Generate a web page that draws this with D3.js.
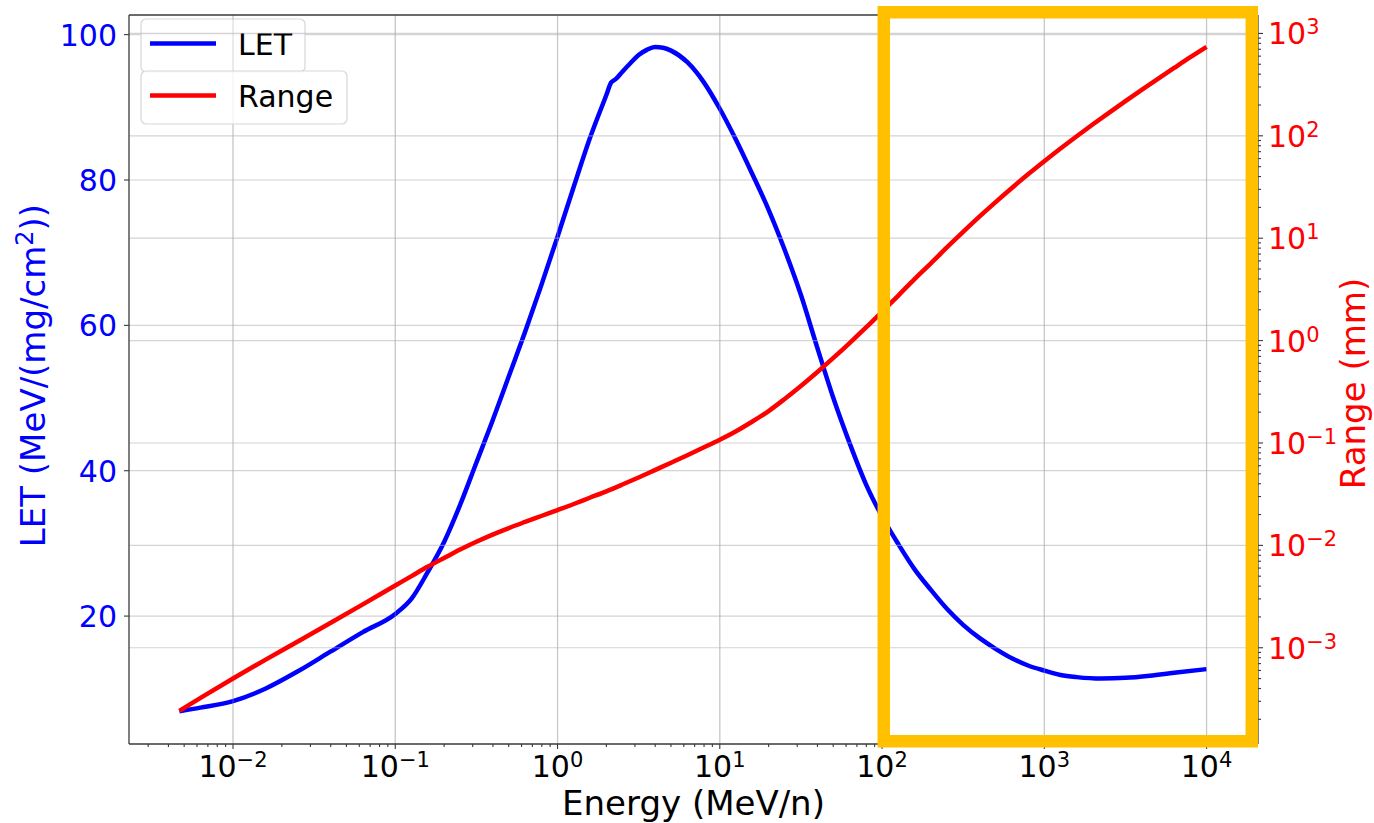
<!DOCTYPE html>
<html>
<head>
<meta charset="utf-8">
<script src="https://cdn.jsdelivr.net/npm/d3@7"></script>
<style>
  html, body { margin: 0; padding: 0; background: #fff; }
  svg { display: block; font-family: "DejaVu Sans", sans-serif; }
</style>
</head>
<body>
<svg id="chart" width="1374" height="823"></svg>
<script>
// Energy grid (MeV/n) and linear energy transfer, MeV/(mg/cm^2)
const energyLET = [
  0.00467, 0.00631, 0.01, 0.0158, 0.0251, 0.0398, 0.0631, 0.1, 0.126, 0.158,
  0.2, 0.251, 0.316, 0.398, 0.501, 0.631, 0.794, 1.0, 1.26, 1.58,
  2.0, 2.14, 2.29, 2.51, 2.82, 3.16, 3.55, 3.98, 4.47, 5.01,
  6.31, 7.94, 10, 12.6, 15.8, 20.0, 25.1, 31.6, 39.8, 50.1,
  63.1, 79.4, 100, 126, 158, 200, 251, 316, 398, 501,
  631, 794, 1000, 1259, 1585, 2239, 3162, 4467, 6310, 10000
];
const letValues = [
  6.9, 7.4, 8.3, 10.0, 12.4, 15.1, 17.8, 20.3, 22.4, 26.0,
  30.2, 35.3, 41.1, 46.9, 53.0, 59.1, 65.5, 72.2, 79.1, 85.7,
  91.7, 93.4, 93.9, 94.9, 96.1, 97.2, 97.9, 98.3, 98.2, 97.8,
  96.2, 93.5, 89.8, 85.5, 80.9, 75.9, 70.4, 64.2, 57.0, 50.0,
  43.8, 38.2, 33.7, 29.9, 26.5, 23.6, 21.0, 18.8, 17.0, 15.5,
  14.2, 13.2, 12.5, 11.9, 11.6, 11.4, 11.5, 11.8, 12.2, 12.7
];

// Energy grid (MeV/n) and range (mm)
const energyRange = [
  0.00467, 0.00631, 0.01, 0.0158, 0.0251, 0.0398, 0.0631, 0.1, 0.126, 0.158,
  0.2, 0.251, 0.316, 0.398, 0.501, 0.631, 0.794, 1.0, 1.26, 1.58,
  2.0, 2.51, 3.16, 3.98, 5.01, 6.31, 7.94, 10, 12.6, 15.8,
  20.0, 25.1, 31.6, 39.8, 50.1, 63.1, 79.4, 100, 126, 158,
  200, 251, 316, 398, 501, 631, 794, 1000, 1259, 1585,
  1995, 2512, 3162, 3981, 5012, 6310, 7943, 10000
];
const rangeValues = [
  2.42e-4, 3.24e-4, 5.01e-4, 7.62e-4, 1.153e-3, 1.746e-3, 2.655e-3, 4.055e-3, 5.01e-3, 6.17e-3,
  7.53e-3, 9.10e-3, 0.01084, 0.01274, 0.01476, 0.01694, 0.01936, 0.02213, 0.02535, 0.02917,
  0.03373, 0.03926, 0.04603, 0.05433, 0.06412, 0.07586, 0.09016, 0.1076, 0.1303, 0.1611,
  0.2051, 0.2692, 0.3606, 0.4909, 0.6776, 0.9462, 1.337, 1.914, 2.754, 3.963,
  5.689, 8.128, 11.53, 16.22, 22.54, 30.97, 42.07, 56.49, 75.16, 99.08,
  129.7, 168.7, 218.3, 281.2, 360.6, 460.3, 586.1, 739.6
];

// Tick values
const energyTicks = [1e-2, 1e-1, 1e0, 1e1, 1e2, 1e3, 1e4];
const energyExponents = ["−2", "−1", "0", "1", "2", "3", "4"];
const letTicks = [20, 40, 60, 80, 100];
const rangeTicks = [1e-3, 1e-2, 1e-1, 1e0, 1e1, 1e2, 1e3];
const rangeExponents = ["−3", "−2", "−1", "0", "1", "2", "3"];

// Series labels
const seriesNames = ["LET", "Range"];

const svg = d3.select("#chart");
const frame = { left: 129, right: 1258, top: 15, bottom: 744 };

const x = d3.scaleLog().domain([Math.pow(10, -2.641), Math.pow(10, 4.317)]).range([frame.left, frame.right]);
const yL = d3.scaleLinear().domain([2.4, 102.7]).range([frame.bottom, frame.top]);
const yR = d3.scaleLog().domain([Math.pow(10, -3.94), Math.pow(10, 3.18)]).range([frame.bottom, frame.top]);

const BLUE = "#0000ff", RED = "#ff0000", GRID = "#b0b0b0", SPINE = "#3a3a3a";

function minorTicks(scale) {
  const [d0, d1] = scale.domain();
  const out = [];
  for (let k = -5; k <= 5; k++) {
    for (let m = 2; m <= 9; m++) {
      const v = m * Math.pow(10, k);
      if (v >= d0 && v <= d1) out.push(v);
    }
  }
  return out;
}

// ---- primary axes layer (LET) ----
const g1 = svg.append("g");
g1.selectAll(".vgrid").data(energyTicks).join("line")
  .attr("x1", d => x(d)).attr("x2", d => x(d))
  .attr("y1", frame.top).attr("y2", frame.bottom)
  .attr("stroke", GRID).attr("stroke-width", 1.2).attr("stroke-opacity", 0.55);
g1.selectAll(".hgridL").data(letTicks).join("line")
  .attr("x1", frame.left).attr("x2", frame.right)
  .attr("y1", d => yL(d)).attr("y2", d => yL(d))
  .attr("stroke", GRID).attr("stroke-width", 1.2).attr("stroke-opacity", 0.55);

const lineLET = d3.line()
  .x((d, i) => x(energyLET[i]))
  .y(d => yL(d))
  .curve(d3.curveMonotoneX);
g1.append("path").datum(letValues)
  .attr("d", lineLET)
  .attr("fill", "none").attr("stroke", BLUE).attr("stroke-width", 4.5)
  .attr("stroke-linejoin", "round").attr("stroke-linecap", "butt");

// legend boxes
function legendBox(g, top, width, color, label) {
  g.append("rect")
    .attr("x", 141).attr("y", top).attr("width", width).attr("height", 53)
    .attr("rx", 5).attr("ry", 5)
    .attr("fill", "#ffffff").attr("fill-opacity", 0.8)
    .attr("stroke", "#cccccc").attr("stroke-opacity", 0.8).attr("stroke-width", 1.2);
  g.append("line")
    .attr("x1", 150).attr("x2", 216)
    .attr("y1", top + 24.5).attr("y2", top + 24.5)
    .attr("stroke", color).attr("stroke-width", 4.5);
  g.append("text")
    .attr("x", 238).attr("y", top + 35.5)
    .attr("font-size", 30).attr("fill", "#000")
    .text(label);
}
legendBox(g1, 19, 164, BLUE, seriesNames[0]);

// ---- secondary axes layer (Range) ----
const g2 = svg.append("g");
g2.selectAll(".vgrid2").data(energyTicks).join("line")
  .attr("x1", d => x(d)).attr("x2", d => x(d))
  .attr("y1", frame.top).attr("y2", frame.bottom)
  .attr("stroke", GRID).attr("stroke-width", 1.2).attr("stroke-opacity", 0.35);
g2.selectAll(".hgridR").data(rangeTicks).join("line")
  .attr("x1", frame.left).attr("x2", frame.right)
  .attr("y1", d => yR(d)).attr("y2", d => yR(d))
  .attr("stroke", GRID).attr("stroke-width", 1.2).attr("stroke-opacity", 0.55);

const lineRange = d3.line()
  .x((d, i) => x(energyRange[i]))
  .y(d => yR(d))
  .curve(d3.curveMonotoneX);
g2.append("path").datum(rangeValues)
  .attr("d", lineRange)
  .attr("fill", "none").attr("stroke", RED).attr("stroke-width", 4.5)
  .attr("stroke-linejoin", "round").attr("stroke-linecap", "butt");

legendBox(g2, 71, 206, RED, seriesNames[1]);

// ---- spines ----
const spines = svg.append("g").attr("stroke", SPINE).attr("stroke-width", 1.3);
spines.append("line").attr("x1", frame.left).attr("x2", frame.left).attr("y1", frame.top).attr("y2", frame.bottom);
spines.append("line").attr("x1", frame.left).attr("x2", frame.right).attr("y1", frame.bottom).attr("y2", frame.bottom);
spines.append("line").attr("x1", frame.left).attr("x2", frame.right).attr("y1", frame.top).attr("y2", frame.top);
spines.append("line").attr("x1", frame.right).attr("x2", frame.right).attr("y1", frame.top).attr("y2", frame.bottom);

// ---- ticks ----
const ticks = svg.append("g").attr("stroke", SPINE).attr("stroke-width", 1.1);
ticks.selectAll(".xmaj").data(energyTicks).join("line")
  .attr("x1", d => x(d)).attr("x2", d => x(d))
  .attr("y1", frame.bottom).attr("y2", frame.bottom + 5);
ticks.selectAll(".xmin").data(minorTicks(x)).join("line")
  .attr("x1", d => x(d)).attr("x2", d => x(d))
  .attr("y1", frame.bottom).attr("y2", frame.bottom + 3);
ticks.selectAll(".ylmaj").data(letTicks).join("line")
  .attr("x1", frame.left - 5).attr("x2", frame.left)
  .attr("y1", d => yL(d)).attr("y2", d => yL(d));
ticks.selectAll(".yrmaj").data(rangeTicks).join("line")
  .attr("x1", frame.right).attr("x2", frame.right + 5)
  .attr("y1", d => yR(d)).attr("y2", d => yR(d));
ticks.selectAll(".yrmin").data(minorTicks(yR)).join("line")
  .attr("x1", frame.right).attr("x2", frame.right + 3)
  .attr("y1", d => yR(d)).attr("y2", d => yR(d));

// ---- tick labels ----
const FS = 30, SUP = 21;
const xl = svg.append("g");
energyTicks.forEach((v, i) => {
  const t = xl.append("text")
    .attr("x", x(v)).attr("y", frame.bottom + 33)
    .attr("text-anchor", "middle").attr("font-size", FS).attr("fill", "#000");
  t.append("tspan").text("10");
  t.append("tspan").attr("font-size", SUP).attr("dy", -10).text(energyExponents[i]);
});

const ll = svg.append("g");
letTicks.forEach(v => {
  ll.append("text")
    .attr("x", frame.left - 12).attr("y", yL(v) + 11)
    .attr("text-anchor", "end").attr("font-size", FS).attr("fill", BLUE)
    .text(v);
});

const rl = svg.append("g");
rangeTicks.forEach((v, i) => {
  const t = rl.append("text")
    .attr("x", frame.right + 10).attr("y", yR(v) + 11)
    .attr("text-anchor", "start").attr("font-size", FS).attr("fill", RED);
  t.append("tspan").text("10");
  t.append("tspan").attr("font-size", SUP).attr("dy", -10).text(rangeExponents[i]);
});

// ---- axis titles ----
const midY = (frame.top + frame.bottom) / 2;
svg.append("text")
  .attr("x", (frame.left + frame.right) / 2).attr("y", 815)
  .attr("text-anchor", "middle").attr("font-size", 34).attr("fill", "#000")
  .text("Energy (MeV/n)");

const lt = svg.append("text")
  .attr("transform", `translate(45,${midY - 4}) rotate(-90)`)
  .attr("text-anchor", "middle").attr("font-size", 34).attr("fill", BLUE);
lt.append("tspan").text("LET (MeV/(mg/cm");
lt.append("tspan").attr("font-size", 24).attr("dy", -12).text("2");
lt.append("tspan").attr("dy", 12).text("))");

svg.append("text")
  .attr("transform", `translate(1365,${midY + 4}) rotate(-90)`)
  .attr("text-anchor", "middle").attr("font-size", 34).attr("fill", RED)
  .text("Range (mm)");

// ---- highlighted high-energy region ----
const hl = { e0: 102.5, e1: 1.9e4 };
svg.append("rect")
  .attr("x", x(hl.e0)).attr("y", frame.top - 2.75)
  .attr("width", x(hl.e1) - x(hl.e0))
  .attr("height", frame.bottom - frame.top)
  .attr("fill", "none").attr("stroke", "#ffc000").attr("stroke-width", 12.5);
</script>
</body>
</html>
